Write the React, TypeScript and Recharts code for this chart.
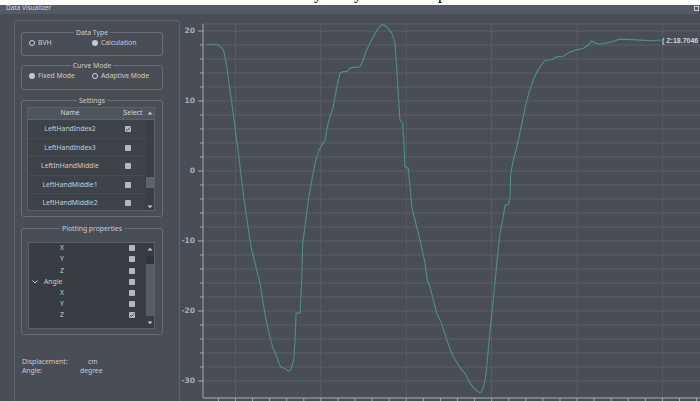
import React from 'react';
import { LineChart, Line, XAxis, YAxis, CartesianGrid } from 'recharts';

// ---- data ----
const frames = [
  3.3, 6.9, 9.8, 12.1, 13.3, 14.9, 16.8, 19.2, 20.7, 21.8, 23.2, 25.0, 26.8, 28.5, 29.7, 31.0, 32.6, 34.4, 36.1, 37.9,
  40.2, 42.0, 44.2, 45.2, 46.5, 47.8, 49.0, 50.9, 51.9, 52.9, 53.7, 54.3, 54.9, 55.5, 56.0, 57.8, 58.3, 58.8, 59.4, 60.7,
  62.7, 64.7, 66.6, 68.6, 70.6, 72.5, 73.5, 74.8, 77.3, 79.3, 81.3, 83.2, 85.2, 87.1, 89.0, 91.0, 92.9, 94.9, 96.4, 97.8,
  100.7, 103.6, 105.2, 106.6, 108.6, 109.9, 111.5, 112.5, 113.4, 114.4, 115.3, 116.3, 117.3, 117.9, 118.2, 118.6, 119.2,
  120.1, 121.2, 122.2, 123.2, 125.1, 128.1, 131.0, 132.3, 133.9, 135.8, 137.8, 140.7, 143.7, 145.6, 147.5, 150.0, 152.5,
  154.4, 157.3, 159.3, 161.3, 163.2, 164.4, 165.2, 166.2, 167.1, 169.1, 171.0, 173.0, 174.9, 176.8, 177.8, 179.8, 180.8,
  181.2, 182.7, 184.3, 185.6, 188.6, 190.6, 192.5, 194.4, 196.6, 198.3, 201.3, 205.2, 208.1, 212.0, 215.9, 219.8, 223.7,
  226.6, 228.6, 230.5, 233.5, 237.4, 241.2, 244.2, 249.1, 256.9, 264.7, 269.2,
];
const angleZ = [
  18.1, 18.1, 18.0, 17.6, 17.0, 14.9, 11.6, 7.3, 4.4, 2.5, -0.5, -4.0, -7.0, -9.8, -11.5, -12.7, -14.3, -16.0, -18.7, -21.3,
  -23.7, -25.3, -26.5, -27.3, -28.0, -28.1, -28.2, -28.6, -28.5, -28.0, -27.4, -26.5, -24.1, -20.3, -20.3, -20.3, -18.0, -15.6, -10.3, -8.0,
  -4.1, -1.3, 1.1, 2.8, 3.7, 4.4, 5.9, 7.3, 9.2, 12.0, 14.0, 14.2, 14.2, 14.7, 14.8, 14.8, 14.9, 15.9, 17.1, 17.8,
  19.2, 20.4, 20.8, 20.9, 20.6, 20.2, 19.7, 19.1, 18.2, 14.9, 11.1, 7.3, 7.0, 6.8, 5.5, 4.4, 0.6,
  0.5, 0.4, -2.2, -5.1, -7.0, -9.9, -13.2, -15.6, -16.5, -18.4, -20.3, -21.8, -24.1, -25.4, -26.5, -27.5, -28.4,
  -28.9, -30.3, -30.9, -31.4, -31.7, -31.4, -30.8, -29.9, -28.0, -22.7, -18.4, -13.2, -8.9, -6.5, -4.9, -4.8, -3.7,
  -0.3, 1.6, 3.0, 4.4, 7.8, 10.1, 11.7, 13.0, 14.2, 14.9, 15.8, 15.9, 16.3, 16.4, 17.0, 17.3, 17.5,
  18.0, 18.6, 18.3, 18.1, 18.3, 18.5, 18.8, 18.8, 18.7, 18.6, 18.7046,
];
const yTicks = [-30, -28, -26, -24, -22, -20, -18, -16, -14, -12, -10, -8, -6, -4, -2, 0, 2, 4, 6, 8, 10, 12, 14, 16, 18, 20];
const yMajor = [-30, -20, -10, 0, 10, 20];
const xTicks = [10, 20, 30, 40, 50, 60, 70, 80, 90, 100, 110, 120, 130, 140, 150, 160, 170, 180, 190, 200, 210, 220, 230, 240, 250, 260, 270, 280, 290];
const xGridValues = [20, 70, 120, 170, 220, 270];
const endLabel = 'Z:18.7046';

const windowTitle = 'Data Visualizer';
const dataTypeOptions = ['BVH', 'Calculation'];
const curveModeOptions = ['Fixed Mode', 'Adaptive Mode'];
const settingsRows = ['LeftHandIndex2', 'LeftHandIndex3', 'LeftInHandMiddle', 'LeftHandMiddle1', 'LeftHandMiddle2'];
const settingsChecked = [true, false, false, false, false];
const plotRows = ['X', 'Y', 'Z', 'Angle', 'X', 'Y', 'Z'];
const plotChecked = [false, false, false, false, false, false, true];

const chartData = frames.map((f, i) => ({ frame: f, z: angleZ[i] }));

const BG = '#484d56';
const TXT = '#c9cdd1';
const BORDER = '#676d75';

const YTick = (props: any) => {
  const { x, y, payload } = props;
  const v = payload.value;
  const major = yMajor.includes(v);
  return (
    <g>
      <line x1={x - (major ? 5 : 3)} x2={x} y1={y} y2={y} stroke="#a3a8ae" strokeWidth={1} />
      {major && (
        <text x={x - 8} y={y + 2.5} textAnchor="end" fontSize={7.5} fontWeight="bold" fontFamily="DejaVu Sans" fill="#a9aeb4">
          {v}
        </text>
      )}
    </g>
  );
};

const XTick = (props: any) => {
  const { x, y } = props;
  return <line x1={x} x2={x} y1={y} y2={y + 4} stroke="#a3a8ae" strokeWidth={1} />;
};

const EndLabel = (props: any) => {
  const { x, y, value } = props;
  if (value !== angleZ[angleZ.length - 1]) return null;
  return (
    <text x={x + 1} y={y + 3} fontSize={7} fontWeight="bold" fontFamily="Liberation Sans" fill="#cfd3d7">
      {'( ' + endLabel}
    </text>
  );
};

const GroupBox = ({ left, top, width, height, title }: any) => (
  <div
    style={{
      position: 'absolute', left, top, width, height, border: `1px solid ${BORDER}`, borderRadius: 3, boxSizing: 'border-box',
    }}
  >
    <div style={{ position: 'absolute', left: 0, right: 0, top: -5, textAlign: 'center', lineHeight: '9px', fontSize: 6.8 }}>
      <span style={{ background: BG, padding: '0 2px', color: TXT }}>{title}</span>
    </div>
  </div>
);

const Radio = ({ x, y, checked, label }: any) => (
  <>
    <div
      style={{
        position: 'absolute', left: x - 3, top: y - 3, width: 6, height: 6, borderRadius: '50%', boxSizing: 'border-box',
        border: checked ? 'none' : '1.5px solid #d2d6da', background: checked ? '#c4c8cc' : 'transparent',
      }}
    />
    <div style={{ position: 'absolute', left: x + 6, top: y - 5, fontSize: 6.8, lineHeight: '10px', color: TXT, whiteSpace: 'nowrap' }}>
      {label}
    </div>
  </>
);

const Check = ({ x, y, checked }: any) => (
  <div style={{ position: 'absolute', left: x - 3, top: y - 3, width: 6, height: 6, background: '#b3b8be', borderRadius: 1 }}>
    {checked && (
      <svg width={6} height={6} style={{ display: 'block' }}>
        <path d="M1 3.2 L2.5 4.6 L5 1.4" stroke="#4a5058" fill="none" strokeWidth={1} />
      </svg>
    )}
  </div>
);

const Arrow = ({ x, y, up }: any) => (
  <svg width={6} height={4} style={{ position: 'absolute', left: x - 3, top: y - 2 }}>
    <path d={up ? 'M0.5 3.5 L3 0.8 L5.5 3.5 Z' : 'M0.5 0.5 L3 3.2 L5.5 0.5 Z'} fill="#c5c9cd" />
  </svg>
);

const Label = ({ x, y, text, size = 7, color = TXT, center = false }: any) => (
  <div
    style={{
      position: 'absolute', left: center ? x - 60 : x, top: y - 5, width: center ? 120 : undefined, textAlign: center ? 'center' : 'left',
      fontSize: size, lineHeight: '10px', color, whiteSpace: 'nowrap',
    }}
  >
    {text}
  </div>
);

export default function App() {
  return (
    <div
      style={{
        position: 'fixed', left: 0, top: 0, width: 700, height: 401, background: BG, overflow: 'hidden',
        fontFamily: '"Noto Sans", "Liberation Sans", sans-serif',
      }}
    >
      {/* top white strip with clipped text from above */}
      <svg width={700} height={5} style={{ position: 'absolute', left: 0, top: 0, background: '#fff' }}>
        <text x={314} y={-1} fontSize={16} fontFamily="Liberation Serif" fill="#000">y</text>
        <text x={354} y={-1} fontSize={16} fontFamily="Liberation Serif" fill="#000">y</text>
        <text x={438} y={-1} fontSize={16} fontFamily="Liberation Serif" fill="#000">p</text>
      </svg>
      {/* title bar */}
      <div style={{ position: 'absolute', left: 0, top: 5, width: 700, height: 9, background: '#545a63' }} />
      <Label x={6} y={8} text={windowTitle} size={6.5} color="#d3d7db" />
      <div style={{ position: 'absolute', left: 694, top: 6, width: 5, height: 5, border: '1px solid #c8ccd0', boxSizing: 'border-box' }} />

      {/* left panel outer box */}
      <div
        style={{
          position: 'absolute', left: 14, top: 20, width: 166, height: 400, border: '1px solid #5d636b', borderRadius: 3, boxSizing: 'border-box',
        }}
      />

      {/* Data Type */}
      <GroupBox left={21} top={32} width={142} height={24} title="Data Type" />
      <Radio x={32} y={42.5} checked={false} label={dataTypeOptions[0]} />
      <Radio x={95} y={42.5} checked={true} label={dataTypeOptions[1]} />

      {/* Curve Mode */}
      <GroupBox left={21} top={65} width={142} height={25} title="Curve Mode" />
      <Radio x={32} y={76} checked={true} label={curveModeOptions[0]} />
      <Radio x={95} y={76} checked={false} label={curveModeOptions[1]} />

      {/* Settings */}
      <GroupBox left={21} top={100} width={142} height={117} title="Settings" />
      <div style={{ position: 'absolute', left: 27, top: 107, width: 128, height: 104, background: '#3e434a', overflow: 'hidden', border: '1px solid #5a6068', boxSizing: 'border-box' }}>
        <div style={{ position: 'absolute', left: 0, top: 0, width: 128, height: 12, background: '#4f555d', borderBottom: '1px solid #5e646c', boxSizing: 'border-box' }} />
        <div style={{ position: 'absolute', left: 95, top: 0, width: 1, height: 12, background: '#666c74' }} />
        <div style={{ position: 'absolute', left: 117, top: 12, width: 11, height: 92, background: '#3a3f46' }} />
        <div style={{ position: 'absolute', left: 118, top: 69, width: 9, height: 11, background: '#5e646c' }} />
        {settingsRows.map((_, i) => (
          <div key={i} style={{ position: 'absolute', left: 0, top: 12 + 18.5 * (i + 1) - 1, width: 117, height: 1, background: '#464b53' }} />
        ))}
      </div>
      <Label x={70} y={113} text="Name" center size={6.8} color="#d4d8dc" />
      <Label x={133} y={113} text="Select" center size={6.8} color="#d4d8dc" />
      <Arrow x={150} y={113} up />
      <Arrow x={150} y={207} up={false} />
      {settingsRows.map((name, i) => (
        <React.Fragment key={i}>
          <Label x={70} y={129.3 + 18.5 * i} text={name} center size={6.8} />
          <Check x={128} y={129.3 + 18.5 * i} checked={settingsChecked[i]} />
        </React.Fragment>
      ))}

      {/* Plotting properties */}
      <GroupBox left={21} top={228} width={142} height={107} title="Plotting properties" />
      <div style={{ position: 'absolute', left: 28, top: 242, width: 127, height: 87, background: '#383d44', border: '1px solid #5a6068', boxSizing: 'border-box' }}>
        <div style={{ position: 'absolute', left: 117, top: 13, width: 8, height: 8, background: '#30353b' }} />
        <div style={{ position: 'absolute', left: 117, top: 21, width: 8, height: 52, background: '#575d65' }} />
      </div>
      <Arrow x={150} y={249} up />
      <Arrow x={150} y={323} up={false} />
      {plotRows.map((name, i) => {
        const y = 248.3 + 11.1 * i;
        const isGroup = name === 'Angle';
        return (
          <React.Fragment key={i}>
            {isGroup ? (
              <>
                <svg width={6} height={4} style={{ position: 'absolute', left: 32, top: y - 2 }}>
                  <path d="M0.5 0.5 L3 3 L5.5 0.5" stroke="#c5c9cd" fill="none" strokeWidth={1} />
                </svg>
                <Label x={44} y={y} text={name} size={6.8} />
              </>
            ) : (
              <Label x={62} y={y} text={name} center size={6.8} />
            )}
            <Check x={132} y={y} checked={plotChecked[i]} />
          </React.Fragment>
        );
      })}

      {/* units */}
      <Label x={22} y={361.5} text="Displacement:" size={6.8} />
      <Label x={88} y={361.5} text="cm" size={6.8} />
      <Label x={22} y={370.5} text="Angle:" size={6.8} />
      <Label x={80} y={370.5} text="degree" size={6.8} />

      {/* chart */}
      <div style={{ position: 'absolute', left: 160, top: 14, width: 540, height: 387 }}>
        <LineChart width={540} height={387} data={chartData} margin={{ top: 10, right: 0, bottom: 0, left: 10 }}>
          <CartesianGrid vertical={false} stroke="#5a6069" strokeWidth={1} />
          <CartesianGrid horizontal={false} verticalValues={xGridValues} stroke="#575d67" strokeWidth={1} />
          <XAxis
            dataKey="frame"
            type="number"
            domain={[1, 292]}
            allowDataOverflow
            ticks={xTicks}
            interval={0}
            height={3}
            tickSize={0}
            tickMargin={0}
            tickLine={false}
            tick={<XTick />}
            axisLine={{ stroke: '#a3a8ae', strokeWidth: 1 }}
          />
          <YAxis
            type="number"
            domain={[-32.43, 21]}
            allowDataOverflow
            ticks={yTicks}
            interval={0}
            width={33}
            tickSize={0}
            tickMargin={0}
            tickLine={false}
            tick={<YTick />}
            axisLine={{ stroke: '#a3a8ae', strokeWidth: 1 }}
          />
          <Line
            type="linear"
            dataKey="z"
            stroke="#4d927f"
            strokeWidth={1.1}
            dot={false}
            isAnimationActive={false}
            label={<EndLabel />}
          />
        </LineChart>
      </div>
    </div>
  );
}
